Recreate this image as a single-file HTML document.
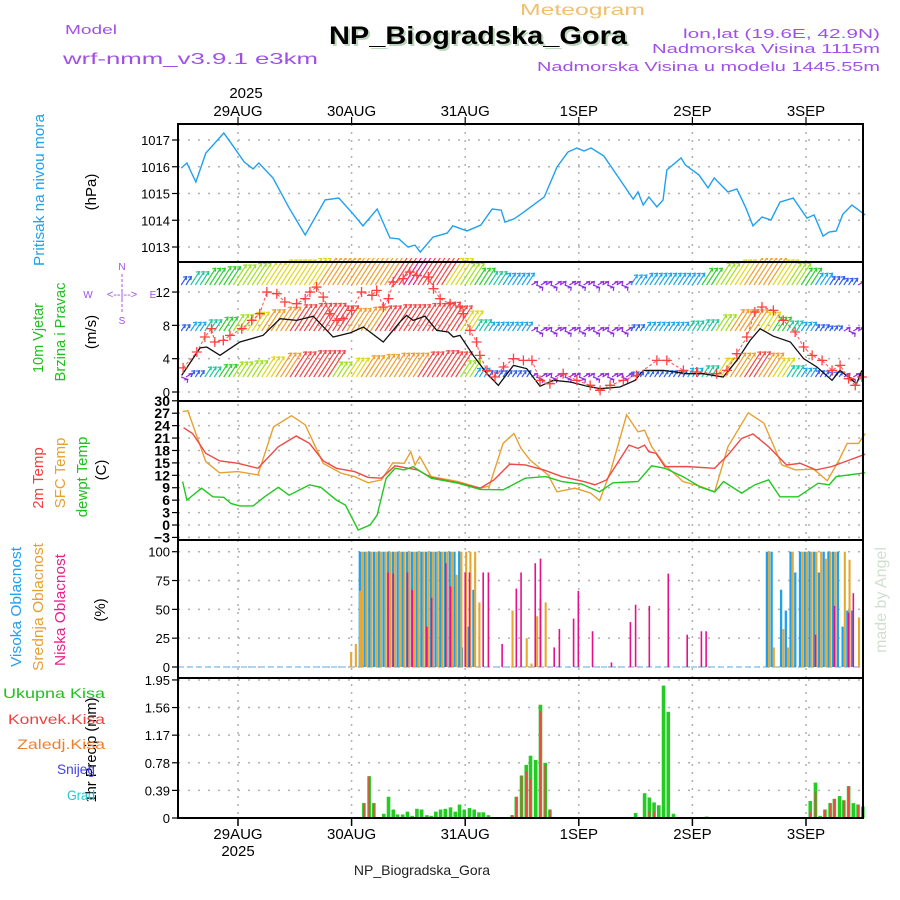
<!DOCTYPE html>
<html>
<head>
<meta charset="utf-8">
<style>
  html,body{margin:0;padding:0;background:#fff;}
  svg{display:block;}
  text{font-family:"Liberation Sans",sans-serif;}
</style>
</head>
<body>
<svg id="chart" width="900" height="900" viewBox="0 0 900 900" xmlns="http://www.w3.org/2000/svg">
  <defs>
    <clipPath id="windClip"><rect x="178" y="258" width="685" height="143"/></clipPath>
  </defs>
  <rect x="0" y="0" width="900" height="900" fill="#fff"/>

  <!-- header -->
  <text x="65" y="34" font-size="13" fill="#a050e8" textLength="52" lengthAdjust="spacingAndGlyphs">Model</text>
  <text x="63" y="64" font-size="16" fill="#a050e8" textLength="255" lengthAdjust="spacingAndGlyphs">wrf-nmm_v3.9.1 e3km</text>
  <text x="520" y="15" font-size="16" fill="#f0c070" textLength="125" lengthAdjust="spacingAndGlyphs">Meteogram</text>
  <text x="331" y="46" font-size="25" font-weight="bold" fill="#bcd8bc" textLength="298" lengthAdjust="spacingAndGlyphs">NP_Biogradska_Gora</text>
  <text x="329" y="44" font-size="25" font-weight="bold" fill="#000" textLength="298" lengthAdjust="spacingAndGlyphs">NP_Biogradska_Gora</text>
  <text x="683" y="38" font-size="13" fill="#a050e8" textLength="197" lengthAdjust="spacingAndGlyphs">lon,lat (19.6E, 42.9N)</text>
  <text x="652" y="53" font-size="13" fill="#a050e8" textLength="228" lengthAdjust="spacingAndGlyphs">Nadmorska Visina 1115m</text>
  <text x="537" y="71" font-size="13" fill="#a050e8" textLength="343" lengthAdjust="spacingAndGlyphs">Nadmorska Visina u modelu 1445.55m</text>

  <!-- left axis titles -->
  <text transform="translate(44,190) rotate(-90)" text-anchor="middle" font-size="15" fill="#20a0f0" textLength="152" lengthAdjust="spacingAndGlyphs">Pritisak na nivou mora</text>
  <text transform="translate(96,192) rotate(-90)" text-anchor="middle" font-size="15" fill="#000">(hPa)</text>
  <text transform="translate(43,338) rotate(-90)" text-anchor="middle" font-size="15" fill="#20c020" textLength="70" lengthAdjust="spacingAndGlyphs">10m Vjetar</text>
  <text transform="translate(65,332) rotate(-90)" text-anchor="middle" font-size="15" fill="#20c020" textLength="99" lengthAdjust="spacingAndGlyphs">Brzina i Pravac</text>
  <text transform="translate(96,332) rotate(-90)" text-anchor="middle" font-size="15" fill="#000">(m/s)</text>
  <g fill="#a050e8" font-size="10">
    <text x="122" y="270" text-anchor="middle">N</text>
    <text x="88" y="298" text-anchor="middle">W</text>
    <text x="153" y="298" text-anchor="middle">E</text>
    <text x="122" y="324" text-anchor="middle">S</text>
    <text x="122" y="298" text-anchor="middle" font-size="11">&lt;--|--&gt;</text>
    <line x1="122" y1="274" x2="122" y2="314" stroke="#a050e8" stroke-dasharray="3,2" stroke-width="1"/>
  </g>
  <text transform="translate(43,478) rotate(-90)" text-anchor="middle" font-size="15" fill="#f04040">2m Temp</text>
  <text transform="translate(65,473) rotate(-90)" text-anchor="middle" font-size="15" fill="#e8a030">SFC Temp</text>
  <text transform="translate(87,477) rotate(-90)" text-anchor="middle" font-size="15" fill="#20c020">dewpt Temp</text>
  <text transform="translate(106,470) rotate(-90)" text-anchor="middle" font-size="15" fill="#000">(C)</text>
  <text transform="translate(21,607) rotate(-90)" text-anchor="middle" font-size="15" fill="#20a0f0" textLength="120" lengthAdjust="spacingAndGlyphs">Visoka Oblacnost</text>
  <text transform="translate(43,607) rotate(-90)" text-anchor="middle" font-size="15" fill="#e8a030" textLength="128" lengthAdjust="spacingAndGlyphs">Srednja Oblacnost</text>
  <text transform="translate(65,610) rotate(-90)" text-anchor="middle" font-size="15" fill="#e8208a" textLength="112" lengthAdjust="spacingAndGlyphs">Niska Oblacnost</text>
  <text transform="translate(105,610) rotate(-90)" text-anchor="middle" font-size="15" fill="#000">(%)</text>
  <text transform="translate(96,750) rotate(-90)" text-anchor="middle" font-size="15" fill="#000" textLength="105" lengthAdjust="spacingAndGlyphs">1hr Precip (mm)</text>
  <text x="3" y="698" font-size="14" fill="#20c020" textLength="102" lengthAdjust="spacingAndGlyphs">Ukupna Kisa</text>
  <text x="8" y="724" font-size="14" fill="#f04040" textLength="97" lengthAdjust="spacingAndGlyphs">Konvek.Kisa</text>
  <text x="17" y="749" font-size="14" fill="#f08030" textLength="88" lengthAdjust="spacingAndGlyphs">Zaledj.Kisa</text>
  <text x="57" y="774" font-size="14" fill="#4040f0" textLength="38" lengthAdjust="spacingAndGlyphs">Snijeg</text>
  <text x="67" y="800" font-size="14" fill="#20c8d0" textLength="28" lengthAdjust="spacingAndGlyphs">Grad</text>

  <text transform="translate(886,600) rotate(-90)" text-anchor="middle" font-size="16" fill="#d0e0d0" font-family="Liberation Serif">made by Angel</text>
  <text x="422" y="875" text-anchor="middle" font-size="14" fill="#222" font-family="Liberation Mono">NP_Biogradska_Gora</text>

  <g id="grid"></g>
  <g id="marks"></g>
  <g id="axes"></g>
</svg>
<script>
// ---------- DATA ----------
const dayLabels = ["29AUG","30AUG","31AUG","1SEP","2SEP","3SEP"];
const yearLabel = "2025";
const pressureTicks = [1013,1014,1015,1016,1017];
const windTicks = [0,4,8,12];
const tempTicks = [-3,0,3,6,9,12,15,18,21,24,27,30];
const cloudTicks = [0,25,50,75,100];
const precipTicks = [0,0.39,0.78,1.17,1.56,1.95];

const pressureHours = [-12,-10.8,-8.9,-6.8,-3,-1.5,1.3,3.2,4.4,7.4,10.8,14.2,18.4,21.3,24.5,26.4,29.4,32.1,34,35.9,37.4,38.5,41.2,44.2,45.4,48.4,51.3,53.7,55.6,56.4,58.3,59.8,64.7,67.4,69.7,71.6,73.1,74.6,77.3,80.3,83.5,84.5,85.6,86.8,88.5,89.8,90.6,93.6,94.5,97.4,99.3,100.6,103.5,105.4,107.3,108.8,110.7,112.6,114.5,117.3,120.2,121.7,123.6,124.9,126.4,127.8,129.7,132.5];
const pressureVals = [1015.95,1016.14,1015.43,1016.51,1017.26,1016.89,1016.18,1015.92,1016.14,1015.58,1014.46,1013.45,1014.76,1014.83,1014.2,1013.79,1014.42,1013.34,1013.3,1013.0,1013.07,1012.81,1013.37,1013.52,1013.79,1013.6,1013.82,1014.42,1014.38,1013.93,1014.05,1014.23,1014.87,1015.99,1016.55,1016.7,1016.59,1016.7,1016.4,1015.62,1014.79,1015.06,1014.57,1014.87,1014.5,1014.76,1015.88,1016.33,1016.07,1015.69,1015.21,1015.58,1015.06,1015.17,1014.46,1013.79,1014.12,1014.01,1014.68,1014.83,1014.08,1014.2,1013.41,1013.56,1013.6,1014.23,1014.57,1014.2];

const windHours = [-11.9,-8,-6.6,-3.8,0.4,5.3,8.9,12.4,15.9,20.1,23.7,26.5,30.7,34.2,35.6,37,39.5,42,44.4,45.5,46.9,49.7,52.6,55,58.2,61,63.8,66.6,70.2,73.7,76.5,80.7,83.9,85.6,89.9,94.8,98.3,102.5,105.4,108.2,110.3,113.1,116.7,119.5,122.3,125.5,127.2,129.3,130.7,131.8];
const windVals = [2.0,5.3,5.4,4.4,6.0,6.8,8.8,8.6,9.1,6.6,7.1,7.8,6.0,8.4,9.2,8.6,9.1,7.4,7.2,6.6,6.8,4.4,2.2,0.8,3.2,2.8,0.7,1.4,1.2,0.7,0.4,0.6,1.4,2.6,2.6,2.2,2.2,1.8,3.8,6.2,7.6,6.7,6.0,4.0,3.0,1.4,2.6,1.6,1.0,2.6];
const gustHours = [-11.6,-8.7,-7,-5.6,-4.9,-3.1,-1.7,0.8,2.9,4.6,6.1,8.2,9.9,12.4,14.2,15.2,16.6,18,19.4,20.9,22.2,24,26.1,28.3,29.3,30.7,31.8,32.8,34.9,36.3,37.8,40.2,41.3,42.7,44.8,46.9,47.6,49,50.4,51.1,52.6,54.3,56.1,58.2,60.3,62.1,63.8,65.9,68.7,71.6,74.4,76.5,78.6,81.4,84.2,88.5,90.6,94.1,96.9,101.1,103.3,105.4,107.5,109.2,110.7,113.1,115.2,117.7,119.5,121.3,123.4,125.5,127.2,129,130.4,131.8];
const gustVals = [2.9,4.8,6.6,7.6,6.0,6.2,6.8,7.6,8.6,9.4,12.0,11.8,10.8,10.6,11.2,12.0,12.6,11.4,9.4,8.6,8.8,9.8,12.0,11.6,12.2,10.2,11.2,13.2,13.6,14.4,14.0,13.8,12.4,11.2,10.6,10.2,9.4,7.4,6.0,4.4,2.6,1.8,3.0,4.0,3.8,3.8,1.4,1.0,2.2,1.4,0.8,0.2,0.8,1.4,2.0,3.8,3.8,2.6,2.4,2.2,2.6,4.6,6.6,9.6,10.2,9.8,8.6,7.2,5.4,4.4,3.8,2.6,3.2,1.6,0.8,1.8];

const barbHours = [-12,-9,-6,-3,0,3,6,9,12,15,18,21,24,27,30,33,36,39,42,45,48,51,54,57,60,63,66,69,72,75,78,81,84,87,90,93,96,99,102,105,108,111,114,117,120,123,126,129,132];
const upperWind = [5,8,10,11,12,13,14,15,15,16,17,17,18,18,19,22,24,22,20,16,13,10,8,7,7,3,3,3,3,3,3,3,6,7,7,7,7,10,13,15,17,17,15,13,10,7,5,4,3];
const middleWind = [5,7,9,11,13,15,17,19,21,22,22,20,18,19,20,21,21,22,23,20,16,9,7,7,7,3,2,2,2,2,2,3,5,7,7,7,8,9,13,17,17,15,11,8,7,5,4,3,3];
const lowerWind = [3,5,8,10,12,13,16,19,20,21,21,12,15,17,18,19,19,20,21,20,13,7,5,5,5,3,2,2,2,2,2,3,4,5,5,5,7,9,15,19,20,19,15,9,7,5,4,3,3];

const t2Hours = [-11.5,-9.6,-6.8,-3.9,0,4.2,8.5,12.3,15.1,18,20.8,24.6,27.5,30.3,33.2,36,37.9,40.8,46.5,51.2,54.1,57.4,60.7,64.6,68.4,73.1,75.4,77.9,82.6,84.5,85.9,86.8,88.3,90.2,95,100.7,103.5,106.4,108.8,112.1,115.9,118.8,122.1,125.4,129.2,132.5];
const t2Vals = [23.5,22.1,17.3,15.5,14.9,13.7,18.9,21.5,19.7,15.5,13.7,12.9,11.5,11.3,14.3,13.7,13.3,11.5,10.2,8.9,10.9,14.7,14.5,13.3,11.7,10.5,9.7,10.9,19.3,18.5,19.3,17.7,17.3,14.1,14.1,13.7,16.9,20.9,22.0,18.9,14.5,14.9,13.3,14.1,15.7,17.1];
const sfcHours = [-11.7,-10.6,-6.8,-3.9,0,4.2,7.5,11.3,14.2,18,21.8,24.6,27.5,30.3,32.7,35.1,36.5,37.4,38.4,40.8,46.5,51.2,53.1,56,58.3,59.8,61.7,65.5,67.4,71.2,74.5,76.4,78.8,82.1,84.5,85.9,87.4,90.2,94,97.8,100.7,103.5,107.8,111.1,114.9,117.8,121.6,124.5,126.8,128.7,131.1,132.5];
const sfcVals = [27.4,27.6,15.3,12.6,12.9,12.1,23.7,26.4,24.2,14.9,12.5,11.7,10.2,10.9,15.0,14.9,17.7,14.5,16.5,11.7,10.5,8.9,9.4,19.7,22.1,18.5,15.7,12.1,8.0,8.9,7.7,5.9,13.3,26.6,22.5,22.9,18.9,14.5,10.5,9.3,8.0,18.9,27.1,24.6,14.5,13.3,13.5,10.7,15.3,19.7,19.7,22.1];
const dewHours = [-11.7,-10.8,-7.7,-5.3,-3,-1.5,0.4,3.2,5.6,8.5,10.8,15.1,17.5,20.8,22.7,25.4,27.9,29.4,31.3,33.2,35.1,37,40.8,46.5,51.2,56,60.7,65,68.4,72.6,76.4,79.2,84.5,87.4,90.2,94,97.8,100.7,102.6,106.4,109.2,112.1,114.5,118.3,122.6,124.9,126.4,132.5];
const dewVals = [10.5,6.0,8.9,6.8,6.7,5.2,4.6,4.6,6.8,9.1,7.2,9.7,9.1,6.0,4.8,-1.2,0.0,2.4,11.3,13.7,13.3,14.1,11.3,10.1,8.6,8.5,11.3,11.7,10.5,9.9,8.0,10.2,10.5,14.3,13.7,11.7,9.1,8.0,10.5,7.7,9.7,10.9,6.8,6.8,10.1,9.7,11.7,12.6];

const highHours = [26,27,28,29,30,31,32,33,34,35,36,37,38,39,40,41,42,43,44,45,46,47,47.6,49,50,112,113,115,116,117,118,119,120,121,122,123,124,125,126,127,128,129,130];
const highVals = [100,100,100,100,100,100,100,100,100,100,100,100,100,100,100,100,100,100,100,100,100,100,17,35,67,100,100,67,49,100,82,100,100,100,100,82,100,100,100,100,35,49,49];
const midHours = [23.7,24.7,25.6,26,27,28,29,30,31,32,33,34,35,36,37,38,39,40,41,42,43,44,45,46,47,48,48.9,49.9,50.8,57.8,60.8,61.8,63,63.7,64.8,112,113,115,116,117,119,120,121,122,123,124,125,126,128,129,131];
const midVals = [13,20,66,100,100,100,100,100,100,100,100,100,100,100,100,100,100,100,100,100,100,100,100,80,100,100,100,100,56,49,25,3,44,59,56,100,17,33,17,100,100,100,100,100,100,94,100,100,100,93,43];
const lowHours = [31.7,32.8,35.8,36.8,39.9,40.9,43.9,44.9,48,48.9,51.8,52.9,55.8,58.8,59.8,62.8,63.9,66.8,67.9,70.9,71.9,74.9,78.9,82.9,84,86.9,90.9,94.9,97.9,98.9,122,126,129,130];
const lowVals = [82,81,82,67,35,60,90,70,82,82,82,82,20,68,82,90,94,17,33,42,66,31,4,39,54,53,81,28,31,31,28,53,47,64];

const precipHours = [26.6,27.7,28.7,30.8,31.8,32.8,33.7,34.8,35.8,36.8,37.8,38.8,39.9,40.8,41.8,42.8,43.8,44.9,45.9,46.8,47.8,48.9,49.9,50.9,51.8,52.9,57.9,58.8,59.9,60.9,61.8,62.9,63.9,64.9,65.9,84,85.9,86.9,87.9,88.9,89.9,90.9,92,99,120.9,122,123,124,125.1,126,127.1,128,129,130,131,132];
const precipVals = [0.21,0.59,0.21,0.06,0.30,0.12,0.05,0.05,0.09,0.03,0.13,0.12,0.04,0.03,0.09,0.12,0.13,0.15,0.09,0.19,0.12,0.14,0.12,0.08,0.08,0.04,0.04,0.30,0.60,0.75,0.88,0.82,1.60,0.78,0.12,0.07,0.35,0.29,0.22,0.18,1.87,1.50,0.06,0.02,0.24,0.50,0.03,0.12,0.21,0.27,0.31,0.25,0.45,0.21,0.19,0.16];
const convHours = [26.6,27.7,28.7,57.9,58.8,59.9,60.9,61.8,63.9,64.9,65.9,86.9,87.9,120.9,122,124,125.1,126,128,129,131,132];
const convVals = [0.21,0.59,0.21,0.04,0.30,0.60,0.66,0.55,1.51,0.75,0.12,0.10,0.09,0.09,0.36,0.12,0.21,0.27,0.25,0.45,0.19,0.16];

// ---------- SCALES ----------
const X0 = 178, X1 = 863;
const hx = t => 238 + t * 113.6 / 24;
const yP = p => 140 + (1017 - p) * 26.75;
const yW = v => 392 - v * 8.33;
const yT = c => 525 - c * 4.14;
const yC = c => 667 - c * 1.153;
const yR = r => 818 - r * 70.8;
const panels = [[124,262],[262,401],[401,540],[540,678],[678,818]];

const NS = "http://www.w3.org/2000/svg";
const gridG = document.getElementById("grid");
const marksG = document.getElementById("marks");
const axesG = document.getElementById("axes");
function mk(tag, attrs, parent) {
  const e = document.createElementNS(NS, tag);
  for (const k in attrs) e.setAttribute(k, attrs[k]);
  parent.appendChild(e);
  return e;
}
function windColor(s) {
  if (s < 3.5) return "#9030e0";
  if (s < 6) return "#3060f0";
  if (s < 8) return "#20a8e8";
  if (s < 10) return "#20c8a0";
  if (s < 12) return "#30d030";
  if (s < 14) return "#a0e020";
  if (s < 16.5) return "#e0d820";
  if (s < 19.5) return "#f0a030";
  if (s < 23.5) return "#f04848";
  return "#e02090";
}

// ---------- GRID ----------
for (let d = 0; d < dayLabels.length; d++) {
  const x = hx(d * 24);
  const gl = mk("line", {x1:x, y1:124, x2:x, y2:818, stroke:"#b0b0b0", "stroke-width":1.5, "stroke-dasharray":"2,6"}, gridG);
  
  
}
function hgrid(ys) {
  ys.forEach(y => {
    const gl = mk("line", {x1:X0, y1:y, x2:X1, y2:y, stroke:"#b0b0b0", "stroke-width":1.5, "stroke-dasharray":"2,8"}, gridG);
    
    
  });
}
hgrid(pressureTicks.map(yP));
hgrid(windTicks.map(yW));
hgrid(tempTicks.filter(t => t < 30).map(yT));
hgrid(cloudTicks.map(yC));
hgrid(precipTicks.filter(v => v > 0).map(yR));

// ---------- PRESSURE ----------
const pLine = mk("polyline", {points: pressureHours.map((h,i) => hx(h)+","+yP(pressureVals[i])).join(" "), fill:"none", stroke:"#20a0f0", "stroke-width":1.4}, marksG);



// ---------- WIND BARBS ----------
const barbG = mk("g", {"clip-path":"url(#windClip)"}, marksG);


function drawRow(vals, baseY, factor, name) {
  barbHours.forEach((h, i) => {
    const s = vals[i];
    for (let k = -1; k <= 1; k++) {
      const x = hx(h + k);
      if (x < X0 || x > X1) continue;
      const weak = s < 3.5;
      const ang = (weak ? (k === 0 ? -20 : 30) : 57) * Math.PI / 180;
      const L = weak ? 7 : s * factor;
      const x2 = x + L * Math.cos(ang), y2 = baseY - L * Math.sin(ang);
      const c = windColor(s);
      const a = mk("path", {d:`M${x},${baseY}L${x2},${y2}M${x2-3.5},${y2+0.5}L${x2},${y2}L${x2-0.5},${y2+3.5}`, stroke:c, "stroke-width":1.2, fill:"none"}, barbG);
      
      
    }
  });
}
drawRow(upperWind, 285, 2.0, 'upper-wind-barb');
drawRow(middleWind, 331, 1.5, 'middle-wind-barb');
drawRow(lowerWind, 377, 1.5, 'lower-wind-barb');

const wLine = mk("polyline", {points: windHours.map((h,i) => hx(h)+","+yW(windVals[i])).join(" "), fill:"none", stroke:"#111", "stroke-width":1.3}, marksG);


const gLine = mk("polyline", {points: gustHours.map((h,i) => hx(h)+","+yW(gustVals[i])).join(" "), fill:"none", stroke:"#ff5050", "stroke-width":1, "stroke-dasharray":"3,2"}, marksG);


gustHours.forEach((h, i) => {
  const x = hx(h), y = yW(gustVals[i]);
  const p = mk("path", {d:`M${x-5},${y}H${x+5}M${x},${y-5}V${y+5}`, stroke:"#ff4040", "stroke-width":1.3}, marksG);
  
  
});

// ---------- TEMPERATURE ----------
[[sfcHours, sfcVals, "#e8a030", 'sfc-temp-line'], [t2Hours, t2Vals, "#f04848", 't2m-line'], [dewHours, dewVals, "#20c820", 'dewpoint-line']].forEach(([hs, vs, col, nm]) => {
  const l = mk("polyline", {points: hs.map((h,i) => hx(h)+","+yT(vs[i])).join(" "), fill:"none", stroke:col, "stroke-width":1.4}, marksG);
  
  
});

// ---------- CLOUDS ----------
const base = mk("line", {x1:X0, y1:667, x2:X1, y2:667, stroke:"#90c8f0", "stroke-width":1.5, "stroke-dasharray":"6,3"}, marksG);


highHours.forEach((h, i) => {
  const b = mk("rect", {x:hx(h)-2.4, y:yC(highVals[i]), width:2.3, height:667-yC(highVals[i]), fill:"#1ea0f0"}, marksG);
  
  
});
midHours.forEach((h, i) => {
  const b = mk("rect", {x:hx(h)-0.1, y:yC(midVals[i]), width:2.1, height:667-yC(midVals[i]), fill:"#e8a830"}, marksG);
  
  
});
lowHours.forEach((h, i) => {
  const b = mk("rect", {x:hx(h)-0.8, y:yC(lowVals[i]), width:1.6, height:667-yC(lowVals[i]), fill:"#e8108a"}, marksG);
  
  
});

// ---------- PRECIP ----------
precipHours.forEach((h, i) => {
  const b = mk("rect", {x:hx(h)-1.8, y:yR(precipVals[i]), width:3.6, height:818-yR(precipVals[i]), fill:"#22cc22"}, marksG);
  
  
});
convHours.forEach((h, i) => {
  const b = mk("rect", {x:hx(h)-0.9, y:yR(convVals[i]), width:1.8, height:818-yR(convVals[i]), fill:"#f04848"}, marksG);
  
  
});

// ---------- AXES / FRAMES ----------
panels.forEach(([a, b]) => {
  const r = mk("rect", {x:X0, y:a, width:X1-X0, height:b-a, fill:"none", stroke:"#000", "stroke-width":2}, axesG);
  
  
});
function leftTicks(vals, fy, fmt, name, bold) {
  vals.forEach(v => {
    const y = fy(v);
    const t = mk("line", {x1:X0-6, y1:y, x2:X0, y2:y, stroke:"#000", "stroke-width":1.2}, axesG);
    
    
    const tx = mk("text", {x:X0-8, y:y+5, "text-anchor":"end", "font-size": bold ? 14 : 13, "font-weight": bold ? "bold" : "normal", fill:"#000"}, axesG);
    tx.textContent = fmt(v);
    
    
  });
}
leftTicks(pressureTicks, yP, v => String(v), 'pressure', false);
leftTicks(windTicks, yW, v => String(v), 'wind', false);
leftTicks(tempTicks, yT, v => v < 0 ? "\u2212" + (-v) : String(v), 'temp', true);
leftTicks(cloudTicks, yC, v => String(v), 'cloud', false);
leftTicks(precipTicks, yR, v => v === 0 ? "0" : v.toFixed(2), 'precip', false);

dayLabels.forEach((lbl, d) => {
  const x = hx(d * 24);
  const t1 = mk("line", {x1:x, y1:117, x2:x, y2:124, stroke:"#000", "stroke-width":1.2}, axesG);
  
  
  const t2 = mk("line", {x1:x, y1:818, x2:x, y2:826, stroke:"#000", "stroke-width":1.5}, axesG);
  
  
  const a = mk("text", {x:x, y:116, "text-anchor":"middle", "font-size":15, fill:"#000"}, axesG);
  a.textContent = lbl;
  
  
  const b = mk("text", {x:x, y:839, "text-anchor":"middle", "font-size":15, fill:"#000"}, axesG);
  b.textContent = lbl;
  
  
});
const y1 = mk("text", {x:hx(0)+8, y:98, "text-anchor":"middle", "font-size":15, fill:"#000"}, axesG);
y1.textContent = yearLabel;


const y2 = mk("text", {x:hx(0), y:856, "text-anchor":"middle", "font-size":15, fill:"#000"}, axesG);
y2.textContent = yearLabel;


</script>
</body>
</html>
